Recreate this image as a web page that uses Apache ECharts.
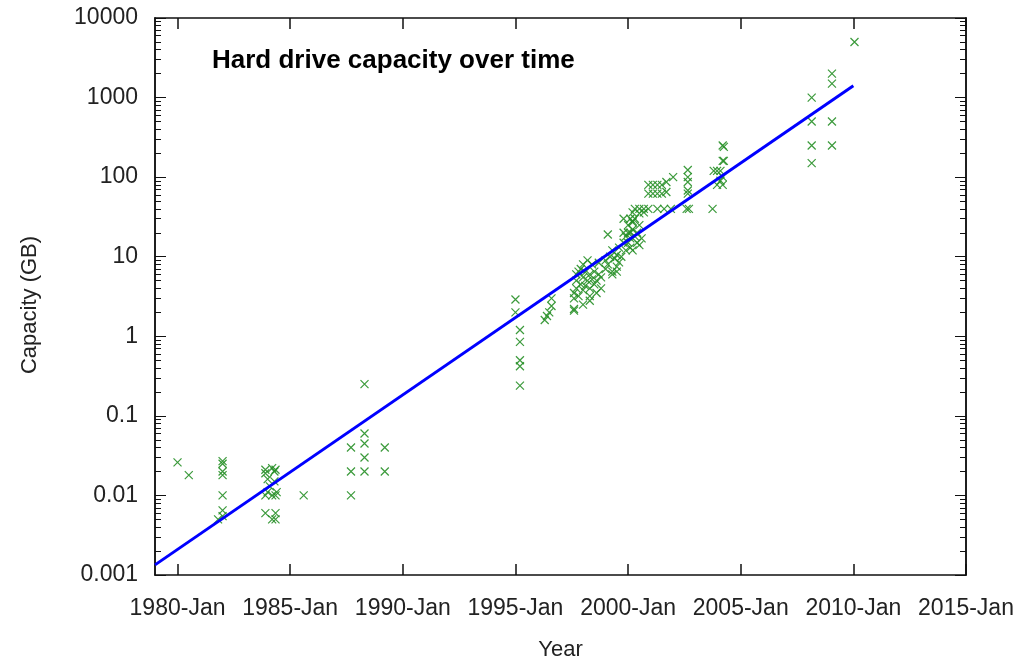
<!DOCTYPE html>
<html>
<head>
<meta charset="utf-8">
<script src="https://cdn.jsdelivr.net/npm/echarts@6/dist/echarts.min.js"></script>
<style>html,body{margin:0;padding:0;background:#fff}#chart{width:1028px;height:661px}</style>
</head>
<body>
<div id="chart"></div>
<script>
// ---- data ----
const driveYears = [
  1980.0, 1980.5,
  1981.8, 1982.0, 1982.0, 1982.0, 1982.0, 1982.0, 1982.0, 1982.0,
  1983.9, 1983.9, 1984.0, 1983.9, 1984.0, 1984.2, 1984.3, 1984.35, 1984.3, 1984.2, 1984.35, 1984.4, 1983.9, 1984.35, 1984.2, 1984.35, 1984.1,
  1985.6,
  1987.7, 1987.7, 1987.7,
  1988.3, 1988.3, 1988.3, 1988.3, 1988.3,
  1989.2, 1989.2,
  1995.0, 1995.0, 1995.2, 1995.2, 1995.2, 1995.2, 1995.2,
  1996.6, 1996.6, 1996.5, 1996.4, 1996.3,
  1997.6, 1997.6, 1997.6, 1997.6, 1997.7, 1997.7, 1997.7, 1997.8, 1997.8, 1997.9, 1997.9, 1998.0, 1998.0, 1998.0, 1998.1, 1998.1,
  1998.2, 1998.2, 1998.3, 1998.3, 1998.3, 1998.4, 1998.4, 1998.5, 1998.5, 1998.6, 1998.6, 1998.7, 1998.7, 1998.8, 1998.8, 1998.3, 1998.0,
  1999.0, 1999.0, 1999.1, 1999.2, 1999.3, 1999.3, 1999.4, 1999.5, 1999.5, 1999.6, 1999.6, 1999.7, 1999.8, 1999.8, 1999.9, 1999.9,
  2000.0, 2000.0, 2000.0, 2000.1, 2000.1, 2000.1, 2000.2, 2000.2, 2000.2, 2000.3, 2000.3, 2000.4, 2000.4, 2000.5, 2000.5, 2000.6,
  1999.1, 1999.3, 1999.5,
  2000.3, 2000.5, 2000.7, 2000.9, 2001.3, 2001.9,
  2000.2, 2000.5, 2000.7,
  1999.8, 2000.1, 2000.2,
  2000.9, 2001.1, 2001.3, 2001.5,
  2000.9, 2001.1, 2001.3, 2001.5,
  2001.7, 2001.7, 2001.6, 2002.0,
  2002.65, 2002.65, 2002.65, 2002.65, 2002.65, 2002.6, 2002.7,
  2003.75,
  2003.8, 2003.95, 2004.1, 2004.2, 2003.95, 2004.2, 2004.2, 2004.25, 2004.2, 2004.25, 2004.1,
  2008.15, 2008.15, 2008.15, 2008.15,
  2009.05, 2009.05, 2009.05, 2009.05,
  2010.05
];
const driveCapacityGB = [
  0.026, 0.018,
  0.005, 0.0055, 0.0065, 0.01, 0.02, 0.018, 0.025, 0.027,
  0.021, 0.019, 0.016, 0.01, 0.011, 0.022, 0.02, 0.021, 0.015, 0.01, 0.01, 0.011, 0.006, 0.006, 0.005, 0.005, 0.013,
  0.01,
  0.04, 0.02, 0.01,
  0.25, 0.06, 0.045, 0.03, 0.02,
  0.04, 0.02,
  2.9, 2.0, 1.2, 0.85, 0.5, 0.42, 0.24,
  3.0, 2.4, 2.0, 1.8, 1.6,
  2.1, 2.2, 3.0, 3.5, 4.0, 5.0, 6.0, 6.5, 3.2, 4.5, 7.0, 5.5, 8.0, 3.8, 4.3, 6.4,
  9.0, 5.0, 3.2, 6.0, 4.0, 8.0, 5.2, 4.5, 6.5, 3.5, 5.0, 8.4, 6.0, 4.0, 5.5, 2.8, 2.5,
  7.0, 9.0, 8.0, 10.0, 6.5, 12.0, 9.5, 7.5, 10.5, 13.0, 8.5, 10.0, 15.0, 20.0, 12.0, 18.0,
  20.0, 15.0, 25.0, 13.0, 17.0, 20.0, 27.0, 22.0, 12.0, 30.0, 18.0, 15.0, 20.0, 14.0, 25.0, 17.0,
  19.0, 6.0, 6.5,
  40, 40, 40, 40, 40, 40,
  36, 35, 36,
  30, 30, 28,
  80, 80, 80, 80,
  62, 62, 62, 62,
  87, 65, 40, 100,
  123, 100, 87, 68, 62, 40, 40,
  40,
  120, 120, 120, 100, 80, 80, 160, 160, 250, 240, 90,
  1000, 500, 250, 150,
  2000, 1500, 500, 250,
  5000
];
const fitYears = [1979.0, 2010.0];
const fitCapacityGB = [0.00134, 1410];

const xTickYears = [1980, 1985, 1990, 1995, 2000, 2005, 2010, 2015];
const xTickLabels = ['1980-Jan', '1985-Jan', '1990-Jan', '1995-Jan', '2000-Jan', '2005-Jan', '2010-Jan', '2015-Jan'];
const yTickValues = [0.001, 0.01, 0.1, 1, 10, 100, 1000, 10000];
const yTickLabels = ['0.001', '0.01', '0.1', '1', '10', '100', '1000', '10000'];
const yMinorMultipliers = [2, 3, 4, 5, 6, 7, 8, 9];

// ---- build ----
const scatterData = driveYears.map((y, i) => [y, driveCapacityGB[i]]);
const fitData = fitYears.map((y, i) => [y, fitCapacityGB[i]]);
const yMinorValues = [];
yTickValues.slice(0, -1).forEach(d => yMinorMultipliers.forEach(m => yMinorValues.push(+(d * m).toPrecision(3))));

const FONT = 'Liberation Sans, Arial, sans-serif';
const AX = '#111';
const TXT = '#222';
const xLabelOf = v => { const i = xTickYears.indexOf(Math.round(v)); return i >= 0 ? xTickLabels[i] : ''; };
const yLabelOf = v => { const i = yTickValues.findIndex(t => Math.abs(Math.log10(t) - Math.log10(v)) < 1e-6); return i >= 0 ? yTickLabels[i] : ''; };

function xAx(pos, withLabels) {
  return {
    type: 'value', min: 1979, max: 2015, position: pos,
    name: withLabels ? 'Year' : '', nameLocation: 'middle', nameGap: 64,
    nameTextStyle: { fontFamily: FONT, fontSize: 22, color: TXT },
    axisLine: { show: true, lineStyle: { color: AX, width: 1.5 } },
    axisTick: { show: true, inside: true, length: 11, customValues: xTickYears, lineStyle: { color: AX, width: 1.5 } },
    axisLabel: { show: withLabels, customValues: xTickYears, formatter: xLabelOf, margin: 22,
      fontFamily: FONT, fontSize: 23, color: TXT },
    splitLine: { show: false }
  };
}
function yAx(pos, minor, withLabels) {
  return {
    type: 'log', logBase: 10, min: 0.001, max: 10000, position: pos,
    axisLine: { show: true, lineStyle: { color: AX, width: 1.5 } },
    axisTick: { show: true, inside: true, length: minor ? 6 : 11,
      customValues: minor ? yMinorValues : yTickValues, lineStyle: { color: AX, width: 1 } },
    axisLabel: { show: withLabels, customValues: yTickValues, formatter: yLabelOf, margin: 17,
      fontFamily: FONT, fontSize: 23, color: TXT },
    splitLine: { show: false }, minorTick: { show: false }
  };
}

const chart = echarts.init(document.getElementById('chart'), null, { renderer: 'canvas' });
chart.setOption({
  animation: false,
  backgroundColor: '#fff',
  title: {
    text: 'Hard drive capacity over time', left: 212, top: 48, padding: 0,
    textStyle: { fontFamily: FONT, fontSize: 26, fontWeight: 'bold', color: '#000' }
  },
  graphic: [{
    type: 'text', x: 30, y: 305, rotation: Math.PI / 2,
    style: { text: 'Capacity (GB)', fontFamily: FONT, fontSize: 22, fill: TXT, align: 'center', verticalAlign: 'middle' }
  }],
  grid: { left: 155, right: 62, top: 18, bottom: 86, containLabel: false, outerBoundsMode: 'none' },
  xAxis: [xAx('bottom', true), xAx('top', false)],
  yAxis: [yAx('left', false, true), yAx('left', true, false), yAx('right', false, false), yAx('right', true, false)],
  series: [
    {
      type: 'scatter', xAxisIndex: 0, yAxisIndex: 0, data: scatterData,
      symbol: 'path://M0,0L10,10M10,0L0,10', symbolSize: 8,
      itemStyle: { color: 'rgba(0,0,0,0)', borderColor: '#268f26', borderWidth: 1.2, opacity: 0.9 }
    },
    {
      type: 'line', xAxisIndex: 0, yAxisIndex: 0, data: fitData, showSymbol: false, symbol: 'none',
      lineStyle: { color: '#0000ff', width: 3 }
    }
  ]
});
</script>
</body>
</html>
